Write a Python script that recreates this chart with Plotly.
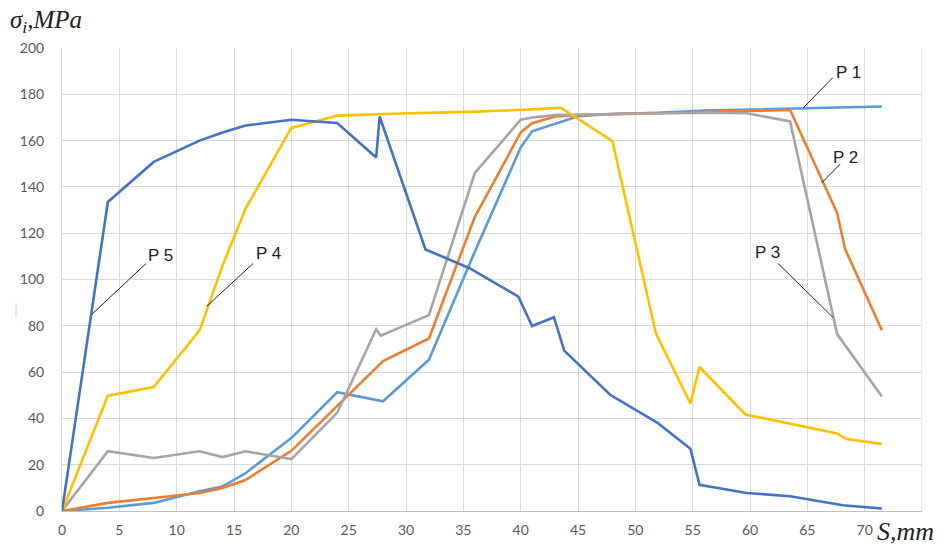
import plotly.graph_objects as go

# Equivalent stress sigma_i (MPa) along path length S (mm) for points P1..P5
p1_s = [0, 4, 8, 12, 14, 16, 20, 24, 28, 32, 36, 40, 41, 44, 45, 48, 52, 56, 60, 64, 68, 71.5]
p1_sigma = [0, 1.4, 3.5, 8.5, 10.6, 16.3, 31.5, 51.3, 47.4, 65.3, 112, 157, 164, 169, 170.5,
            171.5, 172, 173, 173.5, 174, 174.5, 174.7]

p2_s = [0, 4, 8, 12, 14, 16, 20, 24, 28, 32, 36, 40, 41, 43, 45, 48, 52, 56, 60, 63.5, 67.6, 68.3, 71.5]
p2_sigma = [0, 3.5, 5.6, 7.8, 9.9, 13.4, 26, 45.5, 64.8, 74.5, 127, 163.5, 167.5, 170.4, 171,
            171.5, 172, 172.5, 172.8, 173.2, 128.7, 113.1, 78.1]

p3_s = [0, 4, 8, 12, 14, 16, 20, 24, 27.4, 27.8, 32, 36, 40, 41, 43, 48, 52, 56, 59.7, 63.5, 67.6, 71.5]
p3_sigma = [0, 25.8, 22.9, 25.8, 23.3, 25.8, 22.4, 42.4, 78.5, 75.7, 84.6, 146, 169, 170, 171,
            171.5, 171.8, 172, 171.8, 168.3, 76.4, 49.5]

p4_s = [0, 4, 8, 12, 14, 16, 20, 24, 28, 32, 36, 41, 43.5, 48, 51.8, 54.8, 55.6, 59.6, 67.6, 68.4, 71.5]
p4_sigma = [0, 49.8, 53.5, 78, 106, 130.5, 165.5, 170.8, 171.5, 172, 172.5, 173.5, 174.2, 159.8,
            76.6, 46.5, 62.2, 41.7, 33.5, 31.1, 29]

p5_s = [0, 4, 8, 12, 14, 16, 20, 24, 27.4, 27.7, 31.7, 35.5, 39.8, 41, 42.9, 43.8, 47.8, 51.9,
        54.8, 55.6, 59.7, 63.5, 68.1, 71.5]
p5_sigma = [0, 133.5, 150.8, 160, 163.5, 166.5, 169, 167.6, 152.7, 170.4, 113, 105, 92.6, 79.9,
            83.7, 69.3, 50.2, 38.2, 26.9, 11.3, 7.8, 6.4, 2.5, 1.1]

series = [
    ("P 1", p1_s, p1_sigma, "#5B9BD5"),
    ("P 2", p2_s, p2_sigma, "#ED7D31"),
    ("P 3", p3_s, p3_sigma, "#A5A5A5"),
    ("P 4", p4_s, p4_sigma, "#FFC000"),
    ("P 5", p5_s, p5_sigma, "#4472C4"),
]

# Callout labels: text position and leader line (from, to) in data units
callouts = [
    ("P 1", 68.55, 189.6, (67.2, 187.1), (64.7, 174.4)),
    ("P 2", 68.3, 152.7, (67.85, 149.8), (66.25, 141.7)),
    ("P 3", 61.5, 111.6, (62.45, 106.9), (67.24, 83.6)),
    ("P 4", 18.05, 111.2, (16.66, 106.9), (12.62, 88.4)),
    ("P 5", 8.55, 110.3, (7.33, 106.9), (2.59, 84.9)),
]

fig = go.Figure()
for name, s, sig, color in series:
    fig.add_trace(go.Scatter(x=s, y=sig, mode="lines", name=name,
                             line=dict(color=color, width=2.6), showlegend=False,
                             hoverinfo="skip"))

shapes = []
annotations = []
for text, tx, ty, (x0, y0), (x1, y1) in callouts:
    shapes.append(dict(type="line", xref="x", yref="y", x0=x0, y0=y0, x1=x1, y1=y1,
                       line=dict(color="#222222", width=1)))
    annotations.append(dict(text=text, x=tx, y=ty, xref="x", yref="y", showarrow=False,
                            font=dict(family="Liberation Sans, Arial", size=17, color="#222222")))

# faint mark left of the value axis
shapes.append(dict(type="line", xref="paper", yref="paper",
                   x0=(16 - 62) / 860, x1=(16 - 62) / 860,
                   y0=(520 - 322) / 472, y1=(520 - 308) / 472,
                   line=dict(color="#d0d0d0", width=1)))

annotations.append(dict(text="<i>σ<sub>i</sub>,MPa</i>", xref="paper", yref="paper",
                        x=(8 - 62) / 860, y=(520 - 21) / 472, xanchor="left", yanchor="middle",
                        showarrow=False,
                        font=dict(family="Liberation Serif, Times New Roman", size=25, color="#222222")))
annotations.append(dict(text="<i>S,mm</i>", xref="paper", yref="paper",
                        x=(875 - 62) / 860, y=(520 - 541) / 472, xanchor="left", yanchor="middle",
                        showarrow=False,
                        font=dict(family="Liberation Serif, Times New Roman", size=26, color="#222222")))

tick_font = dict(family="Lato, Calibri, sans-serif", size=14, color="#595959")

fig.update_layout(
    width=944, height=550,
    margin=dict(l=62, r=22, t=48, b=30),
    paper_bgcolor="white", plot_bgcolor="white",
    shapes=shapes, annotations=annotations,
    xaxis=dict(range=[0, 75], tick0=0, dtick=5, tickvals=list(range(0, 71, 5)),
               showgrid=True, gridcolor="#d9d9d9", gridwidth=1,
               showline=True, linecolor="#bfbfbf", linewidth=1,
               zeroline=False, ticks="", tickfont=tick_font, ticklabelstandoff=6),
    yaxis=dict(range=[0, 200], tick0=0, dtick=20,
               showgrid=True, gridcolor="#d9d9d9", gridwidth=1,
               showline=True, linecolor="#d9d9d9", linewidth=1,
               zeroline=False, ticks="", tickfont=tick_font, ticklabelstandoff=14),
)

# vertical gridline closing the plot on the right (S = 75)
fig.add_shape(type="line", xref="x", yref="paper", x0=75, x1=75, y0=0, y1=1,
              line=dict(color="#d9d9d9", width=1), layer="below")

fig.write_html("out.html")
